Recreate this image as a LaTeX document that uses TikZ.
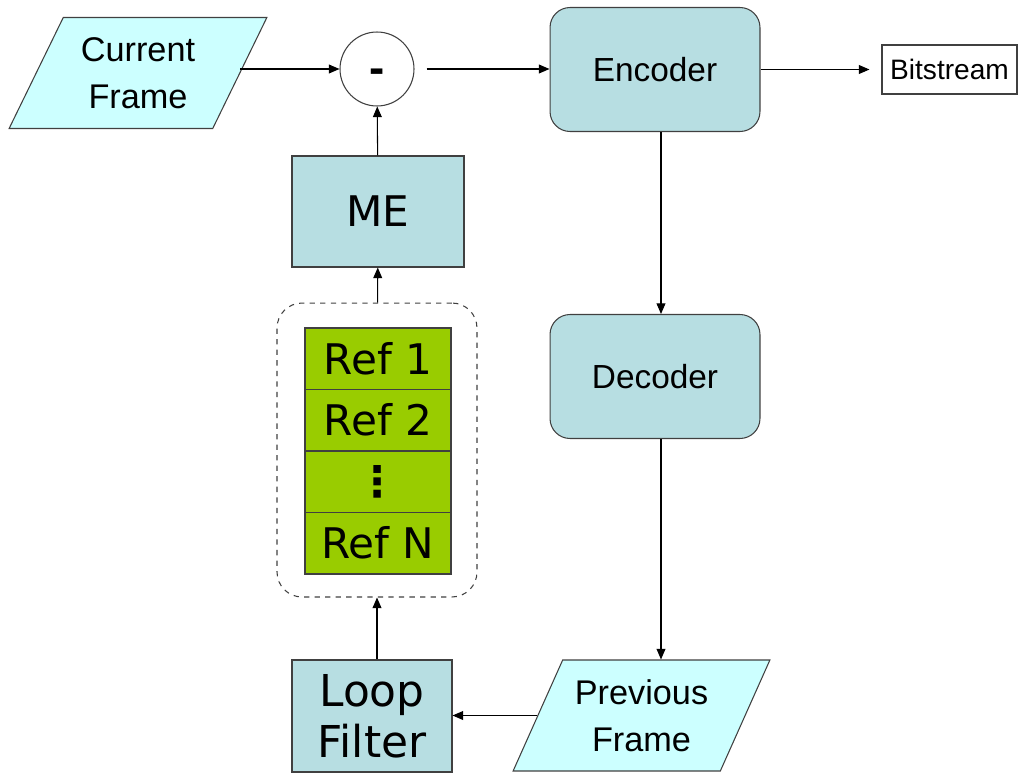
\documentclass[tikz,border=0pt]{standalone}
\usepackage{fontspec}
\setmainfont{Liberation Sans}
\newfontfamily\tahoma{DejaVu Sans}
\usetikzlibrary{shapes.geometric,arrows.meta,positioning}
\definecolor{framecyan}{HTML}{CCFFFF}
\definecolor{blockteal}{HTML}{B7DEE2}
\definecolor{refgreen}{HTML}{99CC00}

\begin{document}
\begin{tikzpicture}[x=0.02cm,y=-0.02cm,line width=0.6pt,
 >={Triangle[length=6pt,width=5pt]},
 every node/.style={draw=black!75,inner sep=0pt},
 frame/.style={trapezium,trapezium left angle=60,trapezium right angle=120,
  trapezium stretches=true,fill=framecyan,minimum width=5.16cm,minimum height=2.22cm,
  align=center,font=\fontsize{19.5}{27}\selectfont},
 block/.style={fill=blockteal,rounded corners=0.4cm,minimum width=4.2cm,minimum height=2.48cm,
  font=\fontsize{19}{23}\selectfont},
 refcell/.style={fill=refgreen,minimum width=2.92cm,minimum height=1.23cm,
  font=\tahoma\fontsize{24}{28}\selectfont}]
\useasboundingbox (0,0) rectangle (1021,774);
% top row
\node[frame] (cur) at (138,73) {Current\\Frame};
\node[circle,minimum size=1.48cm,text height=16pt,text depth=0pt,
 font=\fontsize{26}{30}\selectfont\bfseries] (sub) at (377,69) {-};
\node[block] (enc) at (655,69.5) {Encoder};
\node[minimum width=2.7cm,minimum height=0.98cm,font=\fontsize{16}{19}\selectfont] (bits) at (949.5,69.5) {Bitstream};
% prediction loop
\node[fill=blockteal,minimum width=3.44cm,minimum height=2.22cm,font=\tahoma\fontsize{24}{28}\selectfont] (me) at (378,211.5) {ME};
\node[dashed,rounded corners=0.5cm,minimum width=4cm,minimum height=5.88cm] (store) at (377,450) {};
\foreach \t [count=\i] in {Ref 1,Ref 2,{\bfseries ⋮},Ref N}
 \node[refcell] (ref\i) at (378,{328+61.5*(\i-0.5)}) {\t};
\node[block] (dec) at (655,376.5) {Decoder};
\node[frame,minimum width=5.14cm] (prev) at (641.5,715.5) {Previous\\Frame};
\node[fill=blockteal,minimum width=3.2cm,minimum height=2.24cm,align=center,
 font=\tahoma\fontsize{25}{29}\selectfont] (lf) at (372,716) {Loop\\Filter};
% connectors
\draw[->] (cur.east |- sub.west) -- (sub.west);
\draw[->,shorten <=0.24cm] (sub.east) -- (enc.west |- sub.east);
\draw[->,shorten >=0.24cm] (enc.east) -- (bits.west);
\draw[->] (me) -- (sub);
\draw[->] (store) -- (me);
\draw[->] (lf.north -| store.south) -- (store.south);
\draw[->] ([xshift=0.12cm]enc.south) -- ([xshift=0.12cm]dec.north);
\draw[->] ([xshift=0.12cm]dec.south) -- ([xshift=0.12cm]dec.south |- prev.north);
\draw[->] (prev.west) -- (lf.east |- prev.west);
\end{tikzpicture}
\end{document}
